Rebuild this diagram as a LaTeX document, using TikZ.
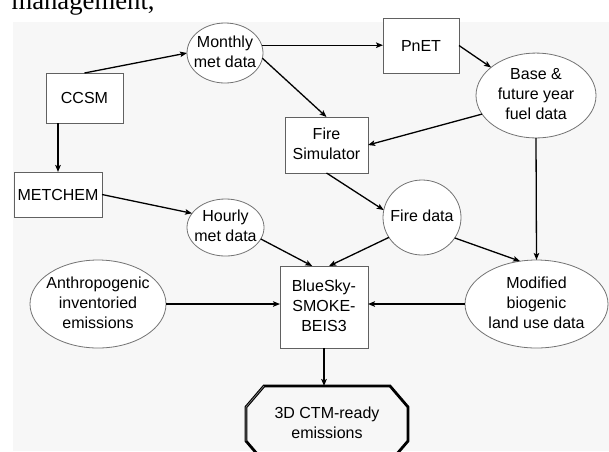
\documentclass[tikz,border=0pt]{standalone}
\usepackage{fontspec}
\setmainfont{Liberation Sans}
\newfontfamily\serifface{Liberation Serif}
\usetikzlibrary{arrows.meta,shapes.geometric,calc}

% centred multi-line label that does not widen its node
\newcommand\flowtext[1]{\makebox[0pt]{\begin{tabular}{@{}c@{}}#1\end{tabular}}}

\begin{document}
\begin{tikzpicture}[x=1pt,y=-1pt,
  every node/.style={font=\fontsize{16}{20}\selectfont, inner sep=0pt, outer sep=0pt},
  procbox/.style={draw=black!62, line width=0.9pt, fill=white, rectangle},
  dataoval/.style={draw=black!55, line width=0.8pt, fill=white, ellipse},
  flow/.style={draw=black, line width=1.3pt, -{Stealth[length=7pt,width=5.5pt,inset=1.5pt]}},
  plain/.style={draw=black, line width=1.3pt}]

  \useasboundingbox (0,0) rectangle (609,451);
  \clip (0,0) rectangle (609,451);

  % page text above the figure and the figure's backdrop
  \fill[white] (0,0) rectangle (609,451);
  \fill[black!3] (13,22) rectangle (609,451);
  \node[font=\serifface\fontsize{26.7}{30}\selectfont, anchor=base west] (pagetext) at (11.5,9.5) {management,};

  % processing steps
  \node[procbox, minimum width=77pt, minimum height=50pt] (ccsm) at (84.5,98) {CCSM};
  \node[procbox, minimum width=88pt, minimum height=45pt] (metchem) at (58,194.5) {METCHEM};
  \node[procbox, minimum width=76pt, minimum height=55pt] (pnet) at (421,45.5) {PnET};
  \node[procbox, minimum width=83pt, minimum height=56pt] (firesim) at (326.5,145) {\flowtext{Fire\\Simulator}};
  \node[procbox, minimum width=88pt, minimum height=82pt] (bluesky) at (324,307) {\flowtext{BlueSky-\\SMOKE-\\BEIS3}};

  % data sets
  \node[dataoval, minimum width=76pt, minimum height=60pt] (monthly) at (225,53) {\flowtext{Monthly\\met data}};
  \node[dataoval, minimum width=77pt, minimum height=57pt] (hourly) at (225.5,227.5) {\flowtext{Hourly\\met data}};
  \node[dataoval, minimum width=120pt, minimum height=65pt] (base) at (536,95.5) {\flowtext{Base \&\\future year\\fuel data}};
  \node[dataoval, minimum width=78pt, minimum height=75pt] (firedata) at (422,217.5) {\flowtext{Fire data}};
  \node[dataoval, minimum width=143pt, minimum height=88pt] (modified) at (536.5,304) {\flowtext{Modified\\biogenic\\land use data}};
  \node[dataoval, minimum width=136pt, minimum height=88pt] (anthro) at (98,304) {\flowtext{Anthropogenic\\inventoried\\emissions}};

  % final product: bevelled octagon
  \node[minimum width=162pt, minimum height=76pt] (ctm) at (327,424) {\flowtext{3D CTM-ready\\emissions}};
  \draw[black, line width=2.8pt, line join=miter]
    ($(ctm.north west)+(18,0)$) -- ($(ctm.north east)+(-18,0)$)
    -- ($(ctm.north east)+(0,21)$) -- ($(ctm.south east)+(0,-21)$)
    -- ($(ctm.south east)+(-18,0)$) -- ($(ctm.south west)+(18,0)$)
    -- ($(ctm.south west)+(0,-21)$) -- ($(ctm.north west)+(0,21)$) -- cycle;
  \draw[black!45, line width=0.6pt]
    ($(ctm.south west)+(0,-21)$) -- ($(ctm.north west)+(0,21)$) -- ($(ctm.north west)+(18,0)$);

  % connectors
  \draw[flow] (ccsm.north) -- (monthly.west);
  \draw[flow] (ccsm.south -| metchem.north) -- (metchem.north);
  \draw[flow] (metchem.east) -- (hourly.157);
  \draw[flow] (monthly.12) -- (monthly.12 -| pnet.west);
  \draw[flow] (monthly.-8) -- (firesim.north);
  \draw[flow] (pnet.east) -- (base.148);
  \draw[flow] (base.199) -- (firesim.east);
  \draw[flow] (base.south) -- (modified.north);
  \draw[flow] (firesim.south) -- (firedata.169);
  \draw[flow] (firedata.211) -- (bluesky.83);
  \draw[flow] (hourly.-18) -- (bluesky.106);
  \draw[flow] (firedata.-32) -- (modified.111);
  \draw[flow] (modified.west) -- (modified.west -| bluesky.east);
  \draw[flow] (anthro.east) -- (anthro.east -| bluesky.west);
  \draw[flow] (bluesky.south) -- (bluesky.south |- ctm.north);
\end{tikzpicture}
\end{document}
